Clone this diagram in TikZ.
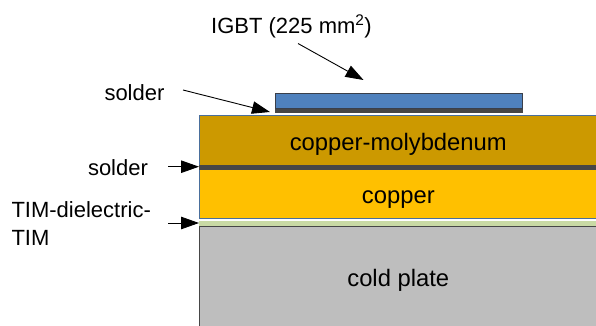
\documentclass[tikz,border=0pt]{standalone}
\usepackage{fontspec}
\setmainfont{Liberation Sans}
\usetikzlibrary{arrows.meta}
\tikzset{
  x=1pt,y=-1pt,
  layer/.style={rectangle,anchor=north west,inner sep=0pt,outer sep=0pt,draw=#1,line width=0.8pt},
  big/.style={inner sep=0pt,outer sep=0pt,anchor=base,font=\fontsize{23.8}{27}\selectfont},
  lbl/.style={inner sep=0pt,outer sep=0pt,font=\fontsize{22}{27.5}\selectfont},
  pointer/.style={draw=black,line width=0.9pt,-{Triangle[length=18pt,width=12.5pt]}}
}
\newcommand{\layerbox}[7]{%
  \node[layer=#6,fill=#7,minimum width=#4pt,minimum height=#5pt] (#1) at (#2,#3) {};}
\definecolor{igbtblue}{HTML}{4F81BD}
\definecolor{igbtedge}{HTML}{3A3F4A}
\definecolor{solderc}{HTML}{464646}
\definecolor{cumo}{HTML}{CC9900}
\definecolor{cuc}{HTML}{FFC000}
\definecolor{timc}{HTML}{C9DAA5}
\definecolor{coldc}{HTML}{BEBEBE}
\definecolor{edgeblue}{HTML}{4A6F9C}
\begin{document}
\begin{tikzpicture}
\useasboundingbox (0,0) rectangle (596,326);
\clip (0,0) rectangle (596,326);
\layerbox{coldplate}{199}{226}{410}{110}{solderc}{coldc}
\layerbox{tim}{199}{221}{410}{4.5}{timc}{timc}
\layerbox{copper}{199}{168}{410}{50}{edgeblue}{cuc}
\layerbox{cumo}{199}{115.5}{410}{50}{edgeblue}{cumo}
\layerbox{soldermid}{199}{165}{410}{4}{solderc}{solderc}
\layerbox{soldertop}{275.5}{109}{246.5}{3.5}{solderc}{solderc}
\layerbox{igbt}{275.5}{93}{246.5}{15}{igbtedge}{igbtblue}
\node[big] (tcumo) at (398.3,150) {copper-molybdenum};
\node[big] (tcopper) at (398.3,203) {copper};
\node[big] (tcold) at (398.3,286.7) {cold plate};
\node[lbl,anchor=base] (tigbt) at (291.5,33.3) {IGBT (225 mm\textsuperscript{2})};
\node[lbl,anchor=base west] (tsolder1) at (104.5,100) {solder};
\node[lbl,anchor=base west] (tsolder2) at (88,175) {solder};
\node[lbl,anchor=north west,align=left] (ttim) at (11.5,202) {TIM-dielectric-\\TIM};
\coordinate (a1s) at (298,43.5);
\coordinate (a1e) at (363.5,80);
\coordinate (a2s) at (183,90);
\coordinate (a2e) at (270,112);
\coordinate (a3s) at (168,166.7);
\coordinate (a3e) at (199,166.7);
\coordinate (a4s) at (168,223);
\coordinate (a4e) at (199,223);
\draw[pointer] (a1s) -- (a1e);
\draw[pointer] (a2s) -- (a2e);
\draw[pointer] (a3s) -- (a3e);
\draw[pointer] (a4s) -- (a4e);
\end{tikzpicture}
\end{document}
